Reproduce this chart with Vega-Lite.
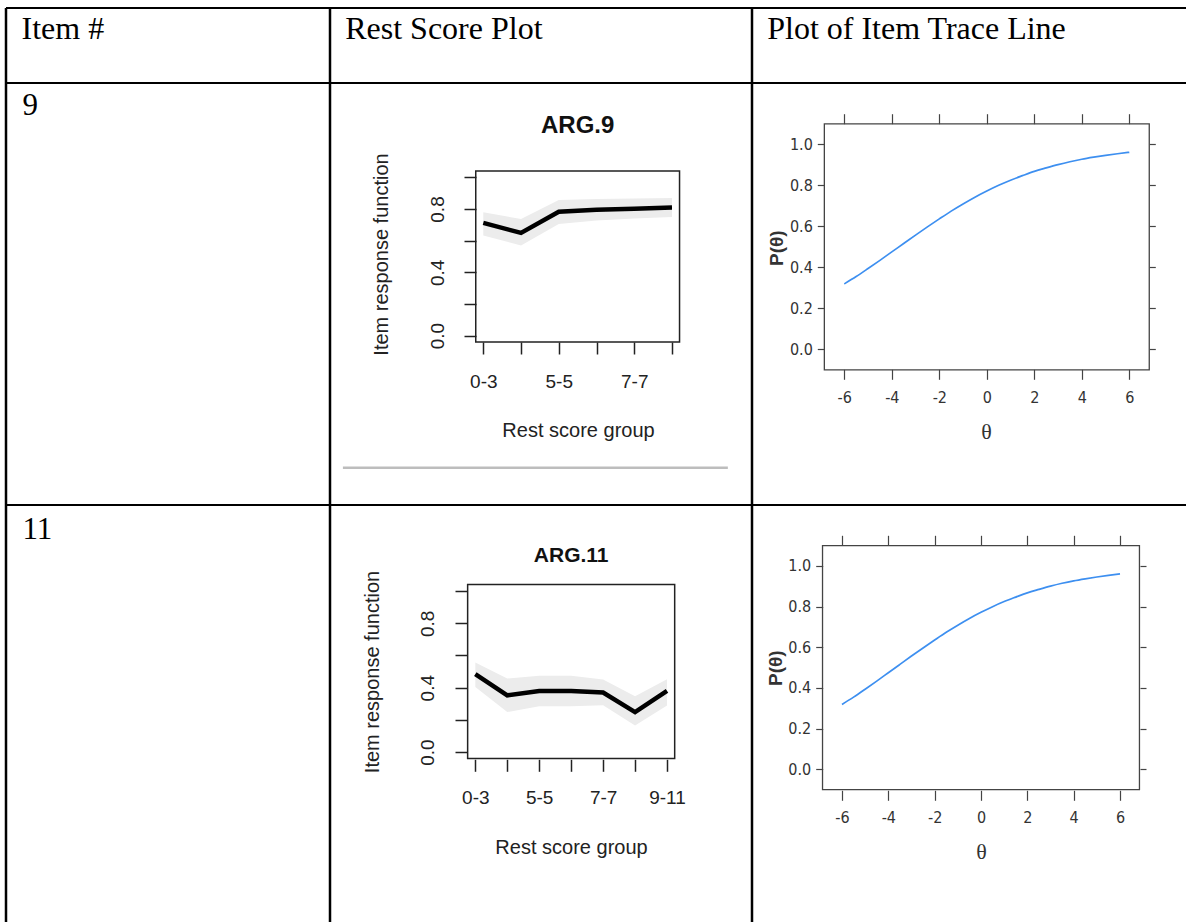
{
  "$schema": "https://vega.github.io/schema/vega-lite/v6.json",
  "padding": {"left": 4, "top": 6, "right": 0, "bottom": 0},
  "background": "white",
  "datasets": {
    "arg9": [
      {"group": "0-3", "group_index": 1, "irf": 0.712, "lower": 0.632, "upper": 0.779},
      {"group": "4-4", "group_index": 2, "irf": 0.649, "lower": 0.570, "upper": 0.737},
      {"group": "5-5", "group_index": 3, "irf": 0.783, "lower": 0.706, "upper": 0.857},
      {"group": "6-6", "group_index": 4, "irf": 0.796, "lower": 0.727, "upper": 0.863},
      {"group": "7-7", "group_index": 5, "irf": 0.802, "lower": 0.740, "upper": 0.867},
      {"group": "8-11", "group_index": 6, "irf": 0.810, "lower": 0.750, "upper": 0.870}
    ],
    "arg11": [
      {"group": "0-3", "group_index": 1, "irf": 0.484, "lower": 0.405, "upper": 0.557},
      {"group": "4-4", "group_index": 2, "irf": 0.353, "lower": 0.249, "upper": 0.457},
      {"group": "5-5", "group_index": 3, "irf": 0.380, "lower": 0.285, "upper": 0.474},
      {"group": "6-6", "group_index": 4, "irf": 0.380, "lower": 0.285, "upper": 0.474},
      {"group": "7-7", "group_index": 5, "irf": 0.370, "lower": 0.291, "upper": 0.451},
      {"group": "8-8", "group_index": 6, "irf": 0.249, "lower": 0.166, "upper": 0.347},
      {"group": "9-11", "group_index": 7, "irf": 0.380, "lower": 0.290, "upper": 0.453}
    ],
    "trace": [
      {"theta": -6, "p": 0.319}, {"theta": -5.5, "p": 0.355}, {"theta": -5, "p": 0.394},
      {"theta": -4.5, "p": 0.434}, {"theta": -4, "p": 0.475}, {"theta": -3.5, "p": 0.516},
      {"theta": -3, "p": 0.557}, {"theta": -2.5, "p": 0.597}, {"theta": -2, "p": 0.636},
      {"theta": -1.5, "p": 0.674}, {"theta": -1, "p": 0.709}, {"theta": -0.5, "p": 0.742},
      {"theta": 0, "p": 0.772}, {"theta": 0.5, "p": 0.800}, {"theta": 1, "p": 0.825},
      {"theta": 1.5, "p": 0.847}, {"theta": 2, "p": 0.868}, {"theta": 2.5, "p": 0.885},
      {"theta": 3, "p": 0.901}, {"theta": 3.5, "p": 0.915}, {"theta": 4, "p": 0.927},
      {"theta": 4.5, "p": 0.937}, {"theta": 5, "p": 0.946}, {"theta": 5.5, "p": 0.954},
      {"theta": 6, "p": 0.961}
    ]
  },
  "config": {
    "view": {"stroke": null},
    "axis": {"grid": false, "domain": false, "labelOverlap": false, "labelFlush": false},
    "font": "Liberation Sans"
  },
  "columns": 3,
  "spacing": 0,
  "bounds": "flush",
  "align": "each",
  "concat": [
    {"width": 324, "height": 75,
     "encoding": {
       "x": {"datum": 0.048, "type": "quantitative", "scale": {"domain": [0, 1]}, "axis": null},
       "y": {"datum": 0.593, "type": "quantitative", "scale": {"domain": [0, 1]}, "axis": null}},
     "layer": [
       {"data": {"values": [{"label": "Item #"}]},
        "mark": {"type": "text", "font": "Liberation Serif", "fontSize": 32, "align": "left", "baseline": "alphabetic", "color": "black"},
        "encoding": {"text": {"field": "label"}}},
       {"data": {"values": [{}]}, "mark": {"type": "rule", "color": "black", "strokeWidth": 2},
        "encoding": {"x": null, "y": {"datum": 1, "type": "quantitative", "scale": {"domain": [0, 1]}, "axis": null}}},
       {"data": {"values": [{}]}, "mark": {"type": "rule", "color": "black", "strokeWidth": 2.5},
        "encoding": {"y": null, "x": {"datum": 0, "type": "quantitative", "scale": {"domain": [0, 1]}, "axis": null}}}
     ]},
    {"width": 422, "height": 75,
     "encoding": {
       "x": {"datum": 0.036, "type": "quantitative", "scale": {"domain": [0, 1]}, "axis": null},
       "y": {"datum": 0.593, "type": "quantitative", "scale": {"domain": [0, 1]}, "axis": null}},
     "layer": [
       {"data": {"values": [{"label": "Rest Score Plot"}]},
        "mark": {"type": "text", "font": "Liberation Serif", "fontSize": 32, "align": "left", "baseline": "alphabetic", "color": "black"},
        "encoding": {"text": {"field": "label"}}},
       {"data": {"values": [{}]}, "mark": {"type": "rule", "color": "black", "strokeWidth": 2},
        "encoding": {"x": null, "y": {"datum": 1, "type": "quantitative", "scale": {"domain": [0, 1]}, "axis": null}}},
       {"data": {"values": [{}]}, "mark": {"type": "rule", "color": "black", "strokeWidth": 2.5},
        "encoding": {"y": null, "x": {"datum": 0, "type": "quantitative", "scale": {"domain": [0, 1]}, "axis": null}}}
     ]},
    {"width": 434, "height": 75,
     "encoding": {
       "x": {"datum": 0.035, "type": "quantitative", "scale": {"domain": [0, 1]}, "axis": null},
       "y": {"datum": 0.593, "type": "quantitative", "scale": {"domain": [0, 1]}, "axis": null}},
     "layer": [
       {"data": {"values": [{"label": "Plot of Item Trace Line"}]},
        "mark": {"type": "text", "font": "Liberation Serif", "fontSize": 32, "align": "left", "baseline": "alphabetic", "color": "black"},
        "encoding": {"text": {"field": "label"}}},
       {"data": {"values": [{}]}, "mark": {"type": "rule", "color": "black", "strokeWidth": 2},
        "encoding": {"x": null, "y": {"datum": 1, "type": "quantitative", "scale": {"domain": [0, 1]}, "axis": null}}},
       {"data": {"values": [{}]}, "mark": {"type": "rule", "color": "black", "strokeWidth": 2.5},
        "encoding": {"y": null, "x": {"datum": 0, "type": "quantitative", "scale": {"domain": [0, 1]}, "axis": null}}}
     ]},

    {"width": 324, "height": 422,
     "encoding": {
       "x": {"datum": 0.051, "type": "quantitative", "scale": {"domain": [0, 1]}, "axis": null},
       "y": {"datum": 0.924, "type": "quantitative", "scale": {"domain": [0, 1]}, "axis": null}},
     "layer": [
       {"data": {"values": [{"label": "9"}]},
        "mark": {"type": "text", "font": "Liberation Serif", "fontSize": 31, "align": "left", "baseline": "alphabetic", "color": "black"},
        "encoding": {"text": {"field": "label"}}},
       {"data": {"values": [{}]}, "mark": {"type": "rule", "color": "black", "strokeWidth": 2},
        "encoding": {"x": null, "y": {"datum": 1, "type": "quantitative", "scale": {"domain": [0, 1]}, "axis": null}}},
       {"data": {"values": [{}]}, "mark": {"type": "rule", "color": "black", "strokeWidth": 2.5},
        "encoding": {"y": null, "x": {"datum": 0, "type": "quantitative", "scale": {"domain": [0, 1]}, "axis": null}}}
     ]},
    {
      "width": 422, "height": 422,
      "resolve": {"axis": {"x": "independent", "y": "independent"}},
      "layer": [
        {"data": {"name": "arg9"}, "mark": {"type": "area", "color": "#ececec"},
         "encoding": {
           "x": {"field": "group_index", "type": "quantitative", "scale": {"domain": [-3.062, 8.12], "nice": false, "zero": false},
             "axis": {"orient": "bottom", "offset": -163, "values": [1, 2, 3, 4, 5, 6],
               "labelExpr": "datum.value == 1 ? '0-3' : datum.value == 3 ? '5-5' : datum.value == 5 ? '7-7' : ''",
               "tickSize": 12, "tickColor": "#222", "tickWidth": 1.5,
               "labelFont": "Liberation Sans", "labelFontSize": 19, "labelColor": "#222", "labelPadding": 33, "labelBaseline": "alphabetic", "labelAlign": "center", "labelAngle": 0,
               "title": "Rest score group", "titleFont": "Liberation Sans", "titleFontSize": 20, "titleFontWeight": "normal", "titleColor": "#222",
               "titleX": 248, "titleY": 94, "titleAlign": "center", "titleBaseline": "alphabetic", "titleAngle": 0}},
           "y": {"field": "lower", "type": "quantitative", "scale": {"domain": [-1.07, 1.596], "nice": false, "zero": false},
             "axis": {"orient": "left", "offset": -146, "values": [0, 0.2, 0.4, 0.6, 0.8, 1],
               "labelExpr": "abs(datum.value) < 0.01 ? '0.0' : abs(datum.value - 0.4) < 0.01 ? '0.4' : abs(datum.value - 0.8) < 0.01 ? '0.8' : ''",
               "tickSize": 12, "tickColor": "#222", "tickWidth": 1.5,
               "labelFont": "Liberation Sans", "labelFontSize": 19, "labelColor": "#222", "labelPadding": 21, "labelAngle": -90, "labelAlign": "center", "labelBaseline": "alphabetic",
               "title": "Item response function", "titleFont": "Liberation Sans", "titleFontSize": 20, "titleFontWeight": "normal", "titleColor": "#222",
               "titleAngle": -90, "titleX": -89, "titleY": 171, "titleAlign": "center", "titleBaseline": "alphabetic"}},
           "y2": {"field": "upper"}
         }},
        {"data": {"name": "arg9"}, "mark": {"type": "line", "color": "black", "strokeWidth": 4.5},
         "encoding": {
           "x": {"field": "group_index", "type": "quantitative", "scale": {"domain": [-3.062, 8.12], "nice": false, "zero": false}, "axis": null},
           "y": {"field": "irf", "type": "quantitative", "scale": {"domain": [-1.07, 1.596], "nice": false, "zero": false}, "axis": null}
         }},
        {"data": {"values": [{}]}, "mark": {"type": "rect", "filled": false, "color": "#222", "strokeWidth": 1.5},
         "encoding": {
           "x": {"datum": 0.8, "type": "quantitative", "scale": {"domain": [-3.062, 8.12], "nice": false, "zero": false}, "axis": null},
           "x2": {"datum": 6.2},
           "y": {"datum": -0.04, "type": "quantitative", "scale": {"domain": [-1.07, 1.596], "nice": false, "zero": false}, "axis": null},
           "y2": {"datum": 1.04}
         }},
        {"data": {"values": [{"label": "ARG.9"}]}, "mark": {"type": "text", "font": "Liberation Sans", "fontWeight": "bold", "fontSize": 24, "align": "center", "baseline": "alphabetic", "color": "#111"},
         "encoding": {
           "text": {"field": "label"},
           "x": {"datum": 3.5, "type": "quantitative", "scale": {"domain": [-3.062, 8.12], "nice": false, "zero": false}, "axis": null},
           "y": {"datum": 1.282, "type": "quantitative", "scale": {"domain": [-1.07, 1.596], "nice": false, "zero": false}, "axis": null}
         }},
        {"data": {"values": [{}]}, "mark": {"type": "rule", "color": "#bdbdbd", "strokeWidth": 2.5},
         "encoding": {
           "x": {"datum": -2.72, "type": "quantitative", "scale": {"domain": [-3.062, 8.12], "nice": false, "zero": false}, "axis": null},
           "x2": {"datum": 7.48},
           "y": {"datum": -0.834, "type": "quantitative", "scale": {"domain": [-1.07, 1.596], "nice": false, "zero": false}, "axis": null}
         }},
        {"data": {"values": [{}]}, "mark": {"type": "rule", "color": "black", "strokeWidth": 2},
         "encoding": {"y": {"datum": 1.596, "type": "quantitative", "scale": {"domain": [-1.07, 1.596], "nice": false, "zero": false}, "axis": null}}},
        {"data": {"values": [{}]}, "mark": {"type": "rule", "color": "black", "strokeWidth": 2.5},
         "encoding": {"x": {"datum": -3.062, "type": "quantitative", "scale": {"domain": [-3.062, 8.12], "nice": false, "zero": false}, "axis": null}}}
      ]
    },
    {
      "width": 434, "height": 422,
      "resolve": {"axis": {"x": "independent", "y": "independent"}},
      "layer": [
        {"data": {"name": "trace"}, "mark": {"type": "line", "color": "#3d8ff0", "strokeWidth": 1.7, "interpolate": "monotone"},
         "encoding": {
           "x": {"field": "theta", "type": "quantitative", "scale": {"domain": [-9.886, 8.387], "nice": false, "zero": false},
             "axis": {"orient": "bottom", "offset": -135.7, "values": [-6, -4, -2, 0, 2, 4, 6], "labelExpr": "'' + datum.value",
               "tickSize": 10, "tickColor": "#444", "tickWidth": 1.2,
               "labelFont": "'Liberation Sans Narrow', 'DejaVu Sans Condensed', sans-serif", "labelFontSize": 16, "labelColor": "#333", "labelPadding": 23, "labelBaseline": "alphabetic", "labelAlign": "center", "labelAngle": 0,
               "title": "θ", "titleFont": "Liberation Serif", "titleFontSize": 22, "titleFontWeight": "normal", "titleColor": "#333",
               "titleX": 234, "titleY": 69, "titleAlign": "center", "titleBaseline": "alphabetic", "titleAngle": 0}},
           "y": {"field": "p", "type": "quantitative", "scale": {"domain": [-0.7595, 1.299], "nice": false, "zero": false},
             "axis": {"orient": "left", "offset": -72.3, "values": [0, 0.2, 0.4, 0.6, 0.8, 1], "format": ".1f",
               "tickSize": 7, "tickColor": "#444", "tickWidth": 1.2,
               "labelFont": "'Liberation Sans Narrow', 'DejaVu Sans Condensed', sans-serif", "labelFontSize": 16, "labelColor": "#333", "labelPadding": 5, "labelAlign": "right", "labelBaseline": "middle", "labelAngle": 0,
               "title": "P(θ)", "titleFont": "Liberation Sans", "titleFontSize": 19, "titleFontWeight": "bold", "titleColor": "#333",
               "titleAngle": -90, "titleX": -42, "titleY": 164.7, "titleAlign": "center", "titleBaseline": "alphabetic"}}
         }},
        {"data": {"values": [{}]}, "mark": {"type": "rect", "filled": false, "color": "#444", "strokeWidth": 1.3},
         "encoding": {
           "x": {"datum": -6.84, "type": "quantitative", "scale": {"domain": [-9.886, 8.387], "nice": false, "zero": false},
             "axis": {"orient": "top", "offset": -40.7, "values": [-6, -4, -2, 0, 2, 4, 6], "labels": false, "tickSize": 10, "tickColor": "#444", "tickWidth": 1.2, "title": null}},
           "x2": {"datum": 6.84},
           "y": {"datum": -0.1, "type": "quantitative", "scale": {"domain": [-0.7595, 1.299], "nice": false, "zero": false},
             "axis": {"orient": "right", "offset": -36.7, "values": [0, 0.2, 0.4, 0.6, 0.8, 1], "labels": false, "tickSize": 6, "tickColor": "#444", "tickWidth": 1.2, "title": null}},
           "y2": {"datum": 1.1}
         }},
        {"data": {"values": [{}]}, "mark": {"type": "rule", "color": "black", "strokeWidth": 2},
         "encoding": {"y": {"datum": 1.299, "type": "quantitative", "scale": {"domain": [-0.7595, 1.299], "nice": false, "zero": false}, "axis": null}}},
        {"data": {"values": [{}]}, "mark": {"type": "rule", "color": "black", "strokeWidth": 2.5},
         "encoding": {"x": {"datum": -9.886, "type": "quantitative", "scale": {"domain": [-9.886, 8.387], "nice": false, "zero": false}, "axis": null}}}
      ]
    },

    {"width": 324, "height": 417,
     "encoding": {
       "x": {"datum": 0.051, "type": "quantitative", "scale": {"domain": [0, 1]}, "axis": null},
       "y": {"datum": 0.918, "type": "quantitative", "scale": {"domain": [0, 1]}, "axis": null}},
     "layer": [
       {"data": {"values": [{"label": "11"}]},
        "mark": {"type": "text", "font": "Liberation Serif", "fontSize": 31, "align": "left", "baseline": "alphabetic", "color": "black"},
        "encoding": {"text": {"field": "label"}}},
       {"data": {"values": [{}]}, "mark": {"type": "rule", "color": "black", "strokeWidth": 2},
        "encoding": {"x": null, "y": {"datum": 1, "type": "quantitative", "scale": {"domain": [0, 1]}, "axis": null}}},
       {"data": {"values": [{}]}, "mark": {"type": "rule", "color": "black", "strokeWidth": 2.5},
        "encoding": {"y": null, "x": {"datum": 0, "type": "quantitative", "scale": {"domain": [0, 1]}, "axis": null}}}
     ]},
    {
      "width": 422, "height": 417,
      "resolve": {"axis": {"x": "independent", "y": "independent"}},
      "layer": [
        {"data": {"name": "arg11"}, "mark": {"type": "area", "color": "#ececec"},
         "encoding": {
           "x": {"field": "group_index", "type": "quantitative", "scale": {"domain": [-3.548, 9.66], "nice": false, "zero": false},
             "axis": {"orient": "bottom", "offset": -162.7, "values": [1, 2, 3, 4, 5, 6, 7],
               "labelExpr": "datum.value == 1 ? '0-3' : datum.value == 3 ? '5-5' : datum.value == 5 ? '7-7' : datum.value == 7 ? '9-11' : ''",
               "tickSize": 12, "tickColor": "#222", "tickWidth": 1.5,
               "labelFont": "Liberation Sans", "labelFontSize": 19, "labelColor": "#222", "labelPadding": 32, "labelBaseline": "alphabetic", "labelAlign": "center", "labelAngle": 0,
               "title": "Rest score group", "titleFont": "Liberation Sans", "titleFontSize": 20, "titleFontWeight": "normal", "titleColor": "#222",
               "titleX": 241, "titleY": 94, "titleAlign": "center", "titleBaseline": "alphabetic", "titleAngle": 0}},
           "y": {"field": "lower", "type": "quantitative", "scale": {"domain": [-1.054, 1.534], "nice": false, "zero": false},
             "axis": {"orient": "left", "offset": -137, "values": [0, 0.2, 0.4, 0.6, 0.8, 1],
               "labelExpr": "abs(datum.value) < 0.01 ? '0.0' : abs(datum.value - 0.4) < 0.01 ? '0.4' : abs(datum.value - 0.8) < 0.01 ? '0.8' : ''",
               "tickSize": 12, "tickColor": "#222", "tickWidth": 1.5,
               "labelFont": "Liberation Sans", "labelFontSize": 19, "labelColor": "#222", "labelPadding": 22, "labelAngle": -90, "labelAlign": "center", "labelBaseline": "alphabetic",
               "title": "Item response function", "titleFont": "Liberation Sans", "titleFontSize": 20, "titleFontWeight": "normal", "titleColor": "#222",
               "titleAngle": -90, "titleX": -88.5, "titleY": 166.5, "titleAlign": "center", "titleBaseline": "alphabetic"}},
           "y2": {"field": "upper"}
         }},
        {"data": {"name": "arg11"}, "mark": {"type": "line", "color": "black", "strokeWidth": 4.5},
         "encoding": {
           "x": {"field": "group_index", "type": "quantitative", "scale": {"domain": [-3.548, 9.66], "nice": false, "zero": false}, "axis": null},
           "y": {"field": "irf", "type": "quantitative", "scale": {"domain": [-1.054, 1.534], "nice": false, "zero": false}, "axis": null}
         }},
        {"data": {"values": [{}]}, "mark": {"type": "rect", "filled": false, "color": "#222", "strokeWidth": 1.5},
         "encoding": {
           "x": {"datum": 0.76, "type": "quantitative", "scale": {"domain": [-3.548, 9.66], "nice": false, "zero": false}, "axis": null},
           "x2": {"datum": 7.24},
           "y": {"datum": -0.04, "type": "quantitative", "scale": {"domain": [-1.054, 1.534], "nice": false, "zero": false}, "axis": null},
           "y2": {"datum": 1.04}
         }},
        {"data": {"values": [{"label": "ARG.11"}]}, "mark": {"type": "text", "font": "Liberation Sans", "fontWeight": "bold", "fontSize": 21, "align": "center", "baseline": "alphabetic", "color": "#111"},
         "encoding": {
           "text": {"field": "label"},
           "x": {"datum": 4.0, "type": "quantitative", "scale": {"domain": [-3.548, 9.66], "nice": false, "zero": false}, "axis": null},
           "y": {"datum": 1.179, "type": "quantitative", "scale": {"domain": [-1.054, 1.534], "nice": false, "zero": false}, "axis": null}
         }},
        {"data": {"values": [{}]}, "mark": {"type": "rule", "color": "black", "strokeWidth": 2},
         "encoding": {"y": {"datum": 1.534, "type": "quantitative", "scale": {"domain": [-1.054, 1.534], "nice": false, "zero": false}, "axis": null}}},
        {"data": {"values": [{}]}, "mark": {"type": "rule", "color": "black", "strokeWidth": 2.5},
         "encoding": {"x": {"datum": -3.548, "type": "quantitative", "scale": {"domain": [-3.548, 9.66], "nice": false, "zero": false}, "axis": null}}}
      ]
    },
    {
      "width": 434, "height": 417,
      "resolve": {"axis": {"x": "independent", "y": "independent"}},
      "layer": [
        {"data": {"name": "trace"}, "mark": {"type": "line", "color": "#3d8ff0", "strokeWidth": 1.7, "interpolate": "monotone"},
         "encoding": {
           "x": {"field": "theta", "type": "quantitative", "scale": {"domain": [-9.884, 8.849], "nice": false, "zero": false},
             "axis": {"orient": "bottom", "offset": -131.7, "values": [-6, -4, -2, 0, 2, 4, 6], "labelExpr": "'' + datum.value",
               "tickSize": 10, "tickColor": "#444", "tickWidth": 1.2,
               "labelFont": "'Liberation Sans Narrow', 'DejaVu Sans Condensed', sans-serif", "labelFontSize": 16, "labelColor": "#333", "labelPadding": 22, "labelBaseline": "alphabetic", "labelAlign": "center", "labelAngle": 0,
               "title": "θ", "titleFont": "Liberation Serif", "titleFontSize": 22, "titleFontWeight": "normal", "titleColor": "#333",
               "titleX": 229, "titleY": 68, "titleAlign": "center", "titleBaseline": "alphabetic", "titleAngle": 0}},
           "y": {"field": "p", "type": "quantitative", "scale": {"domain": [-0.751, 1.3], "nice": false, "zero": false},
             "axis": {"orient": "left", "offset": -70.7, "values": [0, 0.2, 0.4, 0.6, 0.8, 1], "format": ".1f",
               "tickSize": 7, "tickColor": "#444", "tickWidth": 1.2,
               "labelFont": "'Liberation Sans Narrow', 'DejaVu Sans Condensed', sans-serif", "labelFontSize": 16, "labelColor": "#333", "labelPadding": 5, "labelAlign": "right", "labelBaseline": "middle", "labelAngle": 0,
               "title": "P(θ)", "titleFont": "Liberation Sans", "titleFontSize": 19, "titleFontWeight": "bold", "titleColor": "#333",
               "titleAngle": -90, "titleX": -41, "titleY": 162.7, "titleAlign": "center", "titleBaseline": "alphabetic"}}
         }},
        {"data": {"values": [{}]}, "mark": {"type": "rect", "filled": false, "color": "#444", "strokeWidth": 1.3},
         "encoding": {
           "x": {"datum": -6.84, "type": "quantitative", "scale": {"domain": [-9.884, 8.849], "nice": false, "zero": false},
             "axis": {"orient": "top", "offset": -40.3, "values": [-6, -4, -2, 0, 2, 4, 6], "labels": false, "tickSize": 10, "tickColor": "#444", "tickWidth": 1.2, "title": null}},
           "x2": {"datum": 6.84},
           "y": {"datum": -0.1, "type": "quantitative", "scale": {"domain": [-0.751, 1.3], "nice": false, "zero": false},
             "axis": {"orient": "right", "offset": -46, "values": [0, 0.2, 0.4, 0.6, 0.8, 1], "labels": false, "tickSize": 6, "tickColor": "#444", "tickWidth": 1.2, "title": null}},
           "y2": {"datum": 1.1}
         }},
        {"data": {"values": [{}]}, "mark": {"type": "rule", "color": "black", "strokeWidth": 2},
         "encoding": {"y": {"datum": 1.3, "type": "quantitative", "scale": {"domain": [-0.751, 1.3], "nice": false, "zero": false}, "axis": null}}},
        {"data": {"values": [{}]}, "mark": {"type": "rule", "color": "black", "strokeWidth": 2.5},
         "encoding": {"x": {"datum": -9.884, "type": "quantitative", "scale": {"domain": [-9.884, 8.849], "nice": false, "zero": false}, "axis": null}}}
      ]
    }
  ]
}
